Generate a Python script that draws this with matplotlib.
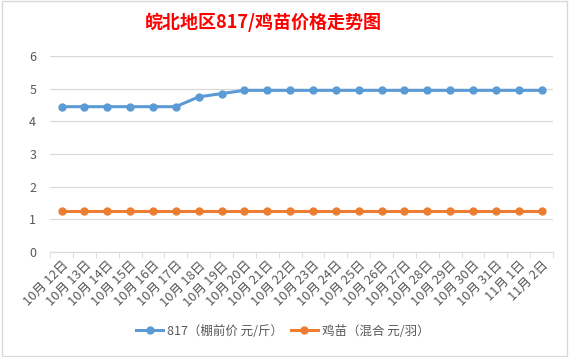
import numpy as np
import matplotlib.pyplot as plt

plt.rcParams['font.family'] = ['Noto Sans CJK SC', 'DejaVu Sans']

dates = ['10月 12日', '10月 13日', '10月 14日', '10月 15日', '10月 16日', '10月 17日',
         '10月 18日', '10月 19日', '10月 20日', '10月 21日', '10月 22日', '10月 23日',
         '10月 24日', '10月 25日', '10月 26日', '10月 27日', '10月 28日', '10月 29日',
         '10月 30日', '10月 31日', '11月 1日', '11月 2日']
price_817 = [4.45, 4.45, 4.45, 4.45, 4.45, 4.45, 4.75, 4.85, 4.95, 4.95, 4.95,
             4.95, 4.95, 4.95, 4.95, 4.95, 4.95, 4.95, 4.95, 4.95, 4.95, 4.95]
price_chick = [1.25] * 22

blue = '#5B9BD5'
orange = '#ED7D31'
txt = '#595959'

fig = plt.figure(figsize=(5.69, 3.57), dpi=100)
ax = fig.add_axes([0.088, 0.294, 0.884, 0.549])

x = np.arange(len(dates))
ax.plot(x, price_817, color=blue, lw=2.2, marker='o', ms=5, label='817（棚前价 元/斤）')
ax.plot(x, price_chick, color=orange, lw=2.2, marker='o', ms=5, label='鸡苗（混合 元/羽）')

ax.set_xlim(-0.5, len(dates) - 0.5)
ax.set_ylim(0, 6)
ax.set_yticks(range(7))
ax.grid(axis='y', color='#D9D9D9', lw=0.9)
ax.set_axisbelow(True)
for s in ['top', 'right', 'left']:
    ax.spines[s].set_visible(False)
ax.spines['bottom'].set_color('#D9D9D9')
ax.tick_params(axis='y', length=0, labelsize=9, labelcolor=txt, pad=10)
ax.set_xticks(x)
ax.set_xticklabels(dates, rotation=45, ha='right', rotation_mode='anchor',
                   fontsize=9.3, color=txt)
ax.set_xticks(np.arange(-0.5, len(dates)), minor=True)
ax.tick_params(axis='x', which='major', length=0, pad=5)
ax.tick_params(axis='x', which='minor', length=4, color='#D9D9D9')

fig.suptitle('皖北地区817/鸡苗价格走势图', color='red', fontsize=13,
             fontweight='bold', x=0.462, y=0.965)

fig.legend(loc='center', bbox_to_anchor=(0.497, 0.072), ncol=2, frameon=False,
           fontsize=9, labelcolor=txt, handlelength=2.2, handletextpad=0.3,
           columnspacing=0.6)

fig.patches.append(plt.Rectangle((0.003, 0.003), 0.994, 0.994, transform=fig.transFigure,
                                 fill=False, edgecolor='#D9D9D9', lw=1))

plt.savefig('out.png', dpi=100)
